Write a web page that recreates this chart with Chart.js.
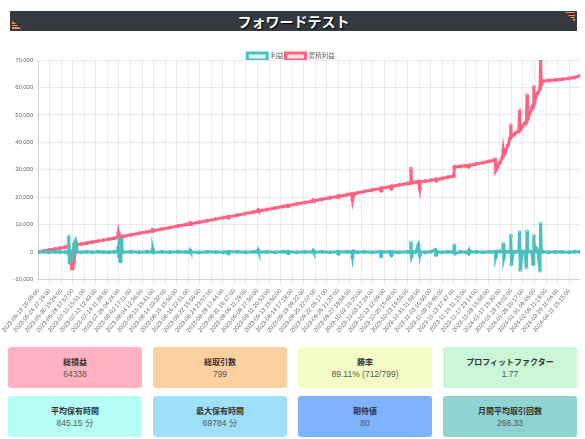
<!DOCTYPE html>
<html lang="ja">
<head>
<meta charset="utf-8">
<script src="https://cdn.jsdelivr.net/npm/chart.js@4/dist/chart.umd.min.js"></script>
<style>
  body { margin: 0; background: #fff; font-family: "Liberation Sans", Arial, "Noto Sans CJK JP", sans-serif; }
  #page { position: relative; width: 585px; height: 439px; overflow: hidden; }
  #titleBar {
    position: absolute; left: 10px; top: 11px; width: 567px; height: 20px;
    background: #343a40; color: #fff; text-align: center;
    font: bold 14px "Noto Sans CJK JP", sans-serif; line-height: 20px;
    text-shadow: 1px 1px 1px #000;
  }
  .deco { position: absolute; width: 10px; height: 10px;
    background: repeating-linear-gradient(to bottom, #f08a4b 0 1.3px, transparent 1.3px 2.5px); }
  .deco.left { left: 2px; bottom: 1px; clip-path: polygon(0 0, 0 100%, 100% 100%); }
  .deco.right { right: 2px; top: 1px; clip-path: polygon(0 0, 100% 0, 100% 100%); }
  #chartBox { position: absolute; left: 0; top: 51px; width: 585px; height: 286px; }
  .card {
    position: absolute; width: 134px; height: 41px; border-radius: 3px;
    text-align: center; font-family: "Liberation Sans", Arial, "Noto Sans CJK JP", sans-serif;
  }
  .card .t { margin-top: 9px; font: bold 8px "Noto Sans CJK JP", sans-serif; color: #333; line-height: 11px; }
  .card .v { margin-top: 2px; font-size: 8.5px; color: #555; line-height: 11px; }
</style>
</head>
<body>
<div id="page">
  <div id="titleBar">フォワードテスト<span class="deco left"></span><span class="deco right"></span></div>
  <div id="chartBox"><canvas id="fwChart"></canvas></div>
  <div id="cards"></div>
</div>
<script>
// x軸に表示される日時ラベル (17取引ごとに1つ)
const xTickLabels = [
  '2023-05-19 16:49:00', '2023-05-24 17:19:00', '2023-05-30 15:24:00', '2023-06-28 17:57:00',
  '2023-07-10 15:51:00', '2023-07-13 12:43:00', '2023-07-14 11:39:00', '2023-07-26 04:24:00',
  '2023-08-02 17:11:00', '2023-08-04 12:36:00', '2023-08-10 15:41:00', '2023-08-14 03:32:00',
  '2023-08-15 15:50:00', '2023-08-16 12:01:00', '2023-08-22 15:56:00', '2023-08-24 23:57:00',
  '2023-08-28 17:44:00', '2023-08-31 16:47:00', '2023-09-06 11:19:00', '2023-09-08 17:50:00',
  '2023-09-11 20:53:00', '2023-09-13 15:50:00', '2023-09-14 17:18:00', '2023-09-19 09:22:00',
  '2023-09-20 22:07:00', '2023-09-22 05:17:00', '2023-09-26 21:37:00', '2023-09-27 19:54:00',
  '2023-10-02 16:20:00', '2023-10-03 17:24:00', '2023-10-13 12:09:00', '2023-10-20 15:48:00',
  '2023-10-23 19:55:00', '2023-10-31 11:58:00', '2023-11-03 16:50:00', '2023-11-09 16:46:00',
  '2023-11-13 17:47:00', '2023-11-16 11:15:00', '2023-11-17 23:14:00', '2023-11-28 15:58:00',
  '2024-01-17 15:30:00', '2024-01-18 19:02:00', '2024-01-26 16:17:00', '2024-01-31 09:45:00',
  '2024-02-06 11:19:00', '2024-03-26 11:04:00', '2024-04-11 15:15:00'
];
const TICK_EVERY = 17;     // 何取引ごとにラベルを出すか
const LAST_TRADE = 798;    // 全799取引 (0始まり)

// 取引番号 (抜き出した取引)
const tradeNo = [
  0, 8, 16, 24, 32, 40, 44, 45, 46, 47,
  48, 50, 51, 53, 55, 56, 57, 64, 72, 80,
  88, 96, 104, 112, 117, 118, 119, 121, 122, 123,
  124, 125, 137, 149, 161, 168, 169, 170, 182, 194,
  206, 218, 223, 224, 225, 237, 249, 261, 273, 279,
  280, 281, 293, 305, 317, 323, 324, 325, 337, 349,
  361, 367, 368, 369, 381, 393, 404, 405, 406, 418,
  430, 441, 442, 443, 455, 462, 463, 464, 466, 470,
  480, 492, 504, 505, 506, 518, 520, 521, 532, 544,
  548, 549, 550, 552, 556, 560, 562, 563, 570, 578,
  585, 586, 587, 595, 603, 611, 612, 613, 614, 622,
  630, 634, 635, 636, 645, 655, 665, 672, 673, 674,
  676, 680, 684, 685, 686, 688, 692, 695, 696, 697,
  700, 704, 708, 709, 710, 713, 717, 719, 720, 721,
  724, 727, 729, 730, 731, 733, 736, 739, 740, 741,
  743, 752, 762, 772, 782, 790, 798
];

// 利益
const profit = [
  0, 120, -80, 150, 60, -40, 90, 5600, -3800, 200,
  -2600, -2200, 300, 2800, 4000, 2000, 100, -60, 110, -90,
  140, 60, -70, 130, 90, 1700, -1500, -3300, 200, 4400,
  100, -50, 150, -80, 120, 60, 1000, -100, 90, -60,
  140, 70, -90, 600, 80, -120, 130, 50, -70, 110,
  -500, 90, 140, -60, 120, 60, 700, -80, 100, -90,
  130, 70, -400, 110, -50, 90, 60, 500, -70, 120,
  -80, 100, -600, 60, 130, 80, -1800, 300, 120, -60,
  90, -70, 110, -1500, 80, 130, -1200, 60, -90, 120,
  70, 3400, -1500, 90, -60, 2600, -1200, 100, -70, 130,
  800, -1000, 90, -80, 110, 60, -50, 2500, -500, 120,
  -70, -600, 600, 80, 120, -90, 110, 60, -50, -1800,
  200, 200, 150, 3000, -2000, 200, 150, 100, 6000, -4500,
  200, 150, 100, 7200, -6500, 200, 100, -5500, 7500, 200,
  150, 100, -4300, 5800, 200, 1500, 150, -6700, 10300, 300,
  100, -60, 90, 70, -80, 100, 90
];

// 累積利益
const cumulative = [
  0, 370, 720, 1090, 1450, 1810, 1990, 2600, -1200, -1100,
  -3800, -6000, -5700, -3200, 800, 2800, 2900, 2950, 3300, 3650,
  4000, 4370, 4720, 5080, 5300, 7000, 5500, 3300, 3400, 5700,
  5800, 5700, 6300, 6850, 7400, 7730, 8000, 7800, 8370, 8920,
  9480, 10030, 10250, 10600, 10350, 10900, 11450, 12010, 12560, 12830,
  12500, 12900, 13480, 14030, 14580, 14860, 15300, 14950, 15500, 16050,
  16610, 16880, 16700, 16970, 17530, 18080, 18580, 18900, 18680, 19230,
  19780, 20290, 20000, 20380, 20930, 21250, 19000, 20400, 21100, 21600,
  22080, 22630, 23180, 22400, 23280, 23830, 23100, 23970, 24470, 25020,
  25200, 30400, 25300, 25350, 25450, 25700, 23000, 25600, 25850, 26150,
  26450, 26000, 26450, 26850, 27250, 27650, 27750, 31000, 31000, 31250,
  31450, 31100, 31600, 31600, 32100, 32600, 33100, 33500, 33650, 29800,
  30800, 32600, 34500, 37300, 35500, 36500, 39000, 41500, 46200, 42000,
  42700, 43500, 44200, 51600, 44500, 45600, 47000, 47500, 57100, 48500,
  50500, 52500, 53500, 60200, 54500, 56500, 58000, 59500, 70500, 61000,
  62300, 62500, 62750, 63000, 63300, 63600, 64338
];

const yTicks = { min: -10000, max: 70000, step: 10000 };

// 統計カード
const cardTitles = ['総損益', '総取引数', '勝率', 'プロフィットファクター', '平均保有時間', '最大保有時間', '期待値', '月間平均取引回数'];
const cardValues = ['64338', '799', '89.11% (712/799)', '1.77', '845.15 分', '69784 分', '80', '266.33'];
const cardColors = ['#ffb3c2', '#ffd09f', '#f5fdc7', '#cbf7d6', '#b5fdf6', '#9fe1fb', '#80b3ff', '#8fd4d1'];

function buildCards() {
  const box = document.getElementById('cards');
  cardTitles.forEach((t, i) => {
    const c = document.createElement('div');
    c.className = 'card';
    c.style.left = (8 + (i % 4) * 145) + 'px';
    c.style.top = (i < 4 ? 347 : 396) + 'px';
    c.style.background = cardColors[i];
    c.innerHTML = '<div class="t">' + t + '</div><div class="v">' + cardValues[i] + '</div>';
    box.appendChild(c);
  });
}

// 凡例の下の余白を詰める
const tightLegend = {
  id: 'tightLegend',
  beforeInit(chart) {
    if (!chart.legend) return;
    const origFit = chart.legend.fit;
    chart.legend.fit = function () {
      origFit.call(this);
      this.height -= 10;
    };
  }
};

function buildChart() {
  const toPoints = arr => arr.map((v, i) => ({ x: tradeNo[i], y: v }));
  const tickFont = { size: 5.9, family: "'Liberation Sans', Arial, sans-serif" };
  new Chart(document.getElementById('fwChart'), {
    type: 'line',
    data: {
      datasets: [
        {
          label: '利益',
          data: toPoints(profit),
          borderColor: 'rgb(75, 192, 192)',
          backgroundColor: 'rgba(75, 192, 192, 0.2)',
          borderWidth: 3,
          pointRadius: 1.6,
          pointBorderWidth: 1,
          tension: 0
        },
        {
          label: '累積利益',
          data: toPoints(cumulative),
          borderColor: 'rgb(255, 99, 132)',
          backgroundColor: 'rgba(255, 99, 132, 0.2)',
          borderWidth: 3,
          pointRadius: 1.6,
          pointBorderWidth: 1,
          tension: 0
        }
      ]
    },
    plugins: [tightLegend],
    options: {
      responsive: true,
      maintainAspectRatio: false,
      animation: false,
      layout: { padding: { left: 0, right: 3, top: 0, bottom: 0 } },
      plugins: {
        legend: {
          labels: {
            boxWidth: 20, boxHeight: 7, padding: 2,
            font: { size: 6.5, family: "'Liberation Sans', Arial, 'Noto Sans CJK JP', sans-serif" },
            color: '#666'
          }
        },
        tooltip: { enabled: false }
      },
      scales: {
        x: {
          type: 'linear',
          min: 0,
          max: LAST_TRADE,
          afterBuildTicks: axis => {
            axis.ticks = xTickLabels.map((_, i) => ({ value: i * TICK_EVERY }));
          },
          ticks: {
            autoSkip: false,
            minRotation: 50,
            maxRotation: 50,
            font: tickFont,
            color: '#666',
            padding: 3,
            callback: v => xTickLabels[v / TICK_EVERY]
          },
          grid: { color: 'rgba(0,0,0,0.08)', tickLength: 5 }
        },
        y: {
          min: yTicks.min,
          max: yTicks.max,
          ticks: { stepSize: yTicks.step, font: tickFont, color: '#666', padding: 3 },
          grid: { color: 'rgba(0,0,0,0.08)', tickLength: 2 }
        }
      }
    }
  });
}

document.addEventListener('DOMContentLoaded', () => {
  buildCards();
  buildChart();
});
</script>
</body>
</html>
